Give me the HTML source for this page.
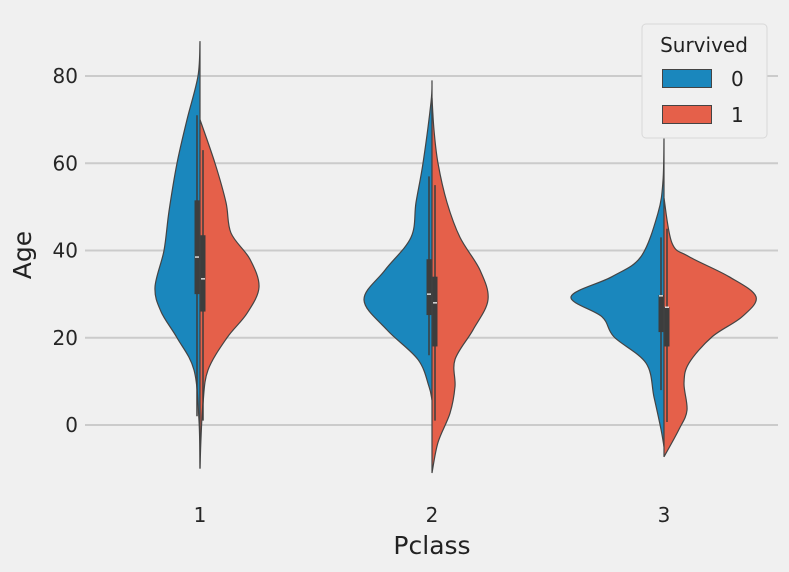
<!DOCTYPE html>
<html><head><meta charset="utf-8"><style>
html,body{margin:0;padding:0;background:#f0f0f0;}
svg{display:block;font-family:"DejaVu Sans","Liberation Sans",sans-serif;}
</style></head><body>
<svg id="chart" width="789" height="572" viewBox="0 0 789 572" xmlns="http://www.w3.org/2000/svg">
<rect x="0" y="0" width="789" height="572" fill="#f0f0f0"/>
<g id="grid"></g>
<g id="violins"></g>
<g id="axes"></g>
<text x="31" y="255" font-size="25" fill="#222" text-anchor="middle" transform="rotate(-90 31 255)">Age</text>
<text x="432" y="554" font-size="25" fill="#222" text-anchor="middle">Pclass</text>
<g>
<rect x="642" y="24" width="125" height="114" rx="4" fill="#f0f0f0" stroke="#d8d8d8"/>
<text x="704" y="52" font-size="20" fill="#222" text-anchor="middle">Survived</text>
<rect x="662.5" y="69.5" width="49" height="18" fill="#1a87bd" stroke="#444"/>
<text x="731" y="86" font-size="20" fill="#222">0</text>
<rect x="662.5" y="105.5" width="49" height="18" fill="#e5604a" stroke="#444"/>
<text x="731" y="122" font-size="20" fill="#222">1</text>
</g>
</svg>
<script>
const categories = ["1","2","3"];
const yTicks = [0,20,40,60,80];
// density profiles: [age, density]
const v1Died = [[88,0],[80,2],[70,13],[60,23],[49,31],[40,36],[31.6,45],[26,39],[20,23],[12.6,6],[1,1],[-10,0]];
const v1Surv = [[70,0],[60,15],[51,26],[44,31],[38,50],[31.6,59],[25.6,47],[20,27],[12.6,8],[5,3],[-3,1],[-10,0]];
const v2Died = [[79,0],[74,1],[60,9],[51,16],[43,21],[35.5,47],[28.7,68],[21.8,45],[15,14],[8.8,3],[5.7,0]];
const v2Surv = [[75,0],[67.6,2],[60,6],[51,15],[43,28],[35.5,48],[28.7,56],[21.8,41],[15,23],[8.8,23],[2.7,18],[-4,6],[-11,0]];
const v3Died = [[66,0],[56,1],[48.6,6],[38.6,23],[34,52],[29.4,93],[24.8,62],[20.2,50],[14.2,18],[6.4,10],[-1,3],[-5,0]];
const v3Surv = [[52,0],[41.7,8],[38.6,25],[34,65],[29.4,92],[24.8,78],[20.2,48],[14.2,25],[9.6,20],[3.4,23],[-1,15],[-7.3,0]];
// box stats: [whiskerLow, q1, median, q3, whiskerHigh]
const boxDied = [[2,30,38.5,51.5,71],[16,25.2,30,38,57],[8,21.3,29.6,29.8,43]];
const boxSurv = [[1,26,33.5,43.5,63],[1,18,28,34,55],[0.7,18,27,27,45]];

const NS="http://www.w3.org/2000/svg";
const xScale = i => 200 + i*232;
const yScale = a => 425 - a*4.3625;
const wScale = d => d;
function mk(tag, attrs, parent){const e=document.createElementNS(NS,tag);for(const k in attrs)e.setAttribute(k,attrs[k]);parent.appendChild(e);return e;}
const grid=document.getElementById('grid'), axes=document.getElementById('axes'), vg=document.getElementById('violins');
yTicks.forEach(t=>{
  const l=mk('line',{x1:85,x2:778,y1:yScale(t),y2:yScale(t),stroke:'#cbcbcb','stroke-width':2},grid);
  
  
  const tx=mk('text',{x:78,y:yScale(t)+7,'font-size':20,fill:'#262626','text-anchor':'end'},axes);
  tx.textContent=t;
  
  
});
categories.forEach((c,i)=>{
  const tx=mk('text',{x:xScale(i),y:522,'font-size':20,fill:'#262626','text-anchor':'middle'},axes);
  tx.textContent=c;
  
  
});
function smoothPath(pts){
  let d='M'+pts[0][0]+','+pts[0][1];
  for(let i=0;i<pts.length-1;i++){
    const p0=pts[Math.max(i-1,0)],p1=pts[i],p2=pts[i+1],p3=pts[Math.min(i+2,pts.length-1)];
    const c1=[p1[0]+(p2[0]-p0[0])/6,p1[1]+(p2[1]-p0[1])/6];
    const c2=[p2[0]-(p3[0]-p1[0])/6,p2[1]-(p3[1]-p1[1])/6];
    d+=' C'+c1[0]+','+c1[1]+' '+c2[0]+','+c2[1]+' '+p2[0]+','+p2[1];
  }
  return d;
}
function half(prof,i,side,color,name){
  const cx=xScale(i);
  const pts=prof.map(p=>[cx+side*wScale(p[1]),yScale(p[0])]);
  let d=smoothPath(pts)+' L'+cx+','+yScale(prof[prof.length-1][0])+' L'+cx+','+yScale(prof[0][0])+' Z';
  const p=mk('path',{d:d,fill:color,stroke:'#444','stroke-width':1.2},vg);
  
  
}
const died=[v1Died,v2Died,v3Died], surv=[v1Surv,v2Surv,v3Surv];
categories.forEach((c,i)=>{
  half(died[i],i,-1,'#1a87bd','violin-died-class-'+c);
  half(surv[i],i,1,'#e5604a','violin-survived-class-'+c);
});
function box(st,i,side,name){
  const cx=xScale(i), bx=cx+side*3;
  const g=mk('g',{},vg);
  
  
  mk('line',{x1:bx,x2:bx,y1:yScale(st[0]),y2:yScale(st[4]),stroke:'#3d3d3d','stroke-width':1.5},g);
  mk('rect',{x:bx-2.5,y:yScale(st[3]),width:5,height:yScale(st[1])-yScale(st[3]),fill:'#3d3d3d'},g);
  mk('line',{x1:bx-2,x2:bx+2,y1:yScale(st[2]),y2:yScale(st[2]),stroke:'#fff','stroke-width':1.2},g);
}
categories.forEach((c,i)=>{
  box(boxDied[i],i,-1,'box-died-class-'+c);
  box(boxSurv[i],i,1,'box-survived-class-'+c);
});
</script>
</body></html>
